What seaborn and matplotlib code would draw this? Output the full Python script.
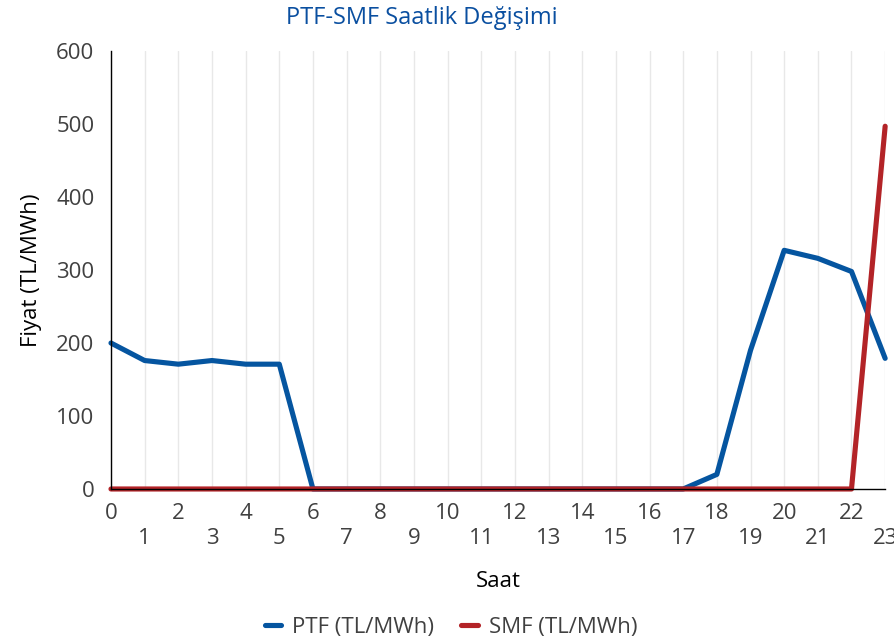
import numpy as np
import pandas as pd
import matplotlib.pyplot as plt
import seaborn as sns

saat = list(range(24))
ptf = [200, 176, 171, 176, 171, 171, 0, 0, 0, 0, 0, 0,
       0, 0, 0, 0, 0, 0, 20, 190, 327, 316, 298, 179]
smf = [0, 0, 0, 0, 0, 0, 0, 0, 0, 0, 0, 0,
       0, 0, 0, 0, 0, 0, 0, 0, 0, 0, 0, 497]
series = ['PTF (TL/MWh)', 'SMF (TL/MWh)']
colors = ['#0555a0', '#b32327']

df = pd.DataFrame({'Saat': saat * 2,
                   'Fiyat': ptf + smf,
                   'Seri': [series[0]] * 24 + [series[1]] * 24})

sns.set_style('white')
plt.rcParams['font.family'] = ['Open Sans', 'DejaVu Sans']
text_color = '#404040'

fig = plt.figure(figsize=(8.95, 6.44), dpi=100)
ax = fig.add_axes([0.124, 0.2407, 0.865, 0.680])

sns.lineplot(data=df, x='Saat', y='Fiyat', hue='Seri', palette=colors,
             linewidth=3.7, ax=ax, legend=True)
for line in ax.lines:
    line.set_clip_on(False)

ax.set_xlim(0, 23)
ax.set_ylim(0, 600)
ax.set_yticks(range(0, 601, 100))
ax.set_xticks(saat)
ax.set_xticklabels([str(h) if h % 2 == 0 else '\n' + str(h) for h in saat],
                   linespacing=1.25)
ax.tick_params(axis='both', labelsize=16, colors=text_color, length=0)
ax.tick_params(axis='x', pad=10)
ax.tick_params(axis='y', pad=12)

ax.grid(axis='x', color='#e8e8e8', linewidth=1)
ax.grid(axis='y', visible=False)
for s in ['top', 'right']:
    ax.spines[s].set_visible(False)
for s in ['left', 'bottom']:
    ax.spines[s].set_color('black')
    ax.spines[s].set_linewidth(1)

ax.set_xlabel('Saat', fontsize=16, color='black', labelpad=16)
ax.set_ylabel('Fiyat (TL/MWh)', fontsize=16, color='black', labelpad=10)
fig.text(422 / 895, 1 - 18 / 644, 'PTF-SMF Saatlik Değişimi',
         fontsize=17, color='#0a4fa0', ha='center', va='center')

handles, labels = ax.get_legend_handles_labels()
ax.get_legend().remove()
fig.legend(handles, labels, loc='center', bbox_to_anchor=(0.504, 0.026),
           ncol=2, frameon=False, fontsize=16, handlelength=0.75,
           handletextpad=0.5, columnspacing=1.2, labelcolor=text_color)

fig.savefig('out.png', dpi=100)
